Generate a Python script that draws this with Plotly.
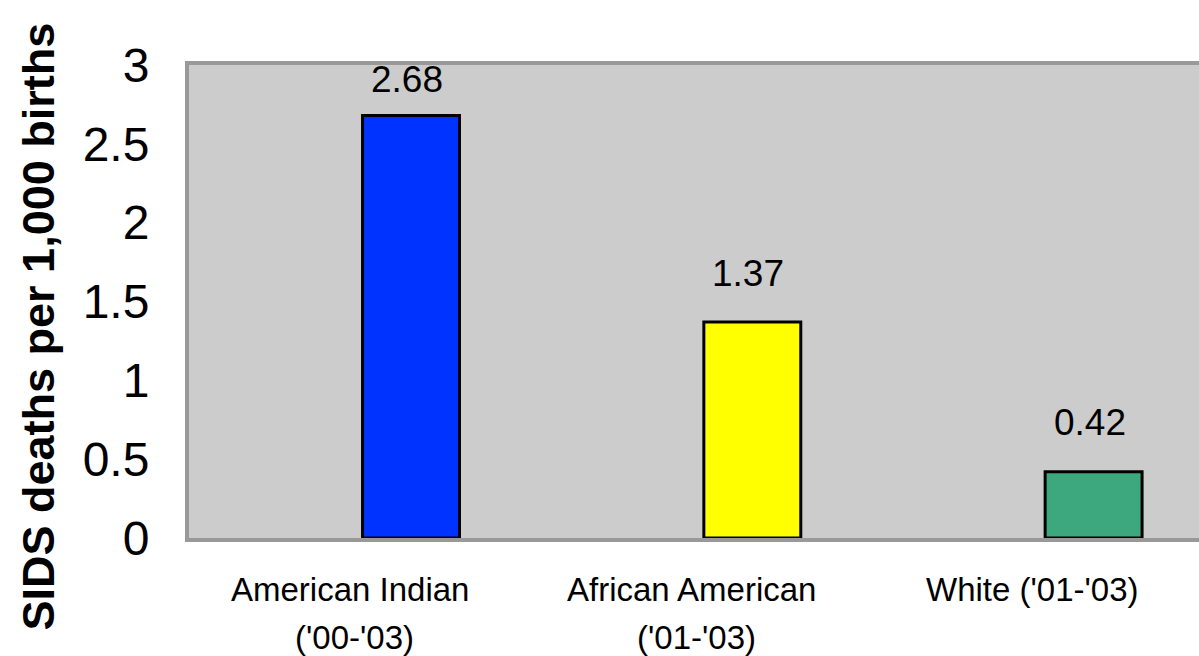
import plotly.graph_objects as go

categories_line1 = ["American Indian", "African American", "White ('01-'03)"]
categories_line2 = ["('00-'03)", "('01-'03)", ""]
values = [2.68, 1.37, 0.42]
value_labels = ["2.68", "1.37", "0.42"]
bar_colors = ["#0033FF", "#FFFF00", "#3DA87D"]
y_ticks = [0, 0.5, 1, 1.5, 2, 2.5, 3]
y_ticktext = ["0", "0.5", "1", "1.5", "2", "2.5", "3"]

FONT = "Liberation Sans, Arial, sans-serif"
cat_idx = list(range(len(values)))
bar_offset = 0.17
bar_x = [i + bar_offset for i in cat_idx]

fig = go.Figure()
fig.add_trace(go.Bar(
    x=bar_x, y=values, width=0.284,
    marker=dict(color=bar_colors, line=dict(color="black", width=3)),
    hoverinfo="skip", showlegend=False,
))

annotations = []
# value labels (kept inside plot area like the source)
for xv, v, t in zip(bar_x, values, value_labels):
    ylab = min(v + 0.31, 2.905)
    annotations.append(dict(x=xv, y=ylab, xref="x", yref="y", text=t, showarrow=False,
                            xanchor="center", yanchor="middle", xshift=-4,
                            font=dict(family=FONT, size=37, color="black")))
# category labels
for i, (l1, l2) in enumerate(zip(categories_line1, categories_line2)):
    annotations.append(dict(x=i, y=0, xref="x", yref="paper", text=l1, showarrow=False,
                            xanchor="center", yanchor="middle", yshift=-51, xshift=-3,
                            font=dict(family=FONT, size=33, color="black")))
    if l2:
        annotations.append(dict(x=i, y=0, xref="x", yref="paper", text=l2, showarrow=False,
                                xanchor="center", yanchor="middle", yshift=-99, xshift=2,
                                font=dict(family=FONT, size=33, color="black")))
# y axis title
annotations.append(dict(x=0, y=0.5, xref="paper", yref="paper",
                        text="<b>SIDS deaths per 1,000 births</b>", showarrow=False,
                        textangle=-90, xanchor="center", yanchor="middle",
                        xshift=-151, yshift=-25,
                        font=dict(family=FONT, size=45, color="black")))

fig.update_layout(
    width=1199, height=656,
    margin=dict(l=189, r=0, t=65, b=118),
    paper_bgcolor="white", plot_bgcolor="#CCCCCC",
    annotations=annotations,
    xaxis=dict(range=[-0.4805, 2.4788], showticklabels=False, showgrid=False, zeroline=False,
               showline=True, linecolor="#999999", linewidth=4, mirror=True, ticks=""),
    yaxis=dict(range=[0, 3], tickvals=y_ticks, ticktext=y_ticktext, showgrid=False, zeroline=False,
               showline=True, linecolor="#999999", linewidth=4, mirror=False, ticks="",
               ticklabelstandoff=26,
               tickfont=dict(family=FONT, size=48, color="black")),
)

fig.write_html("out.html")
